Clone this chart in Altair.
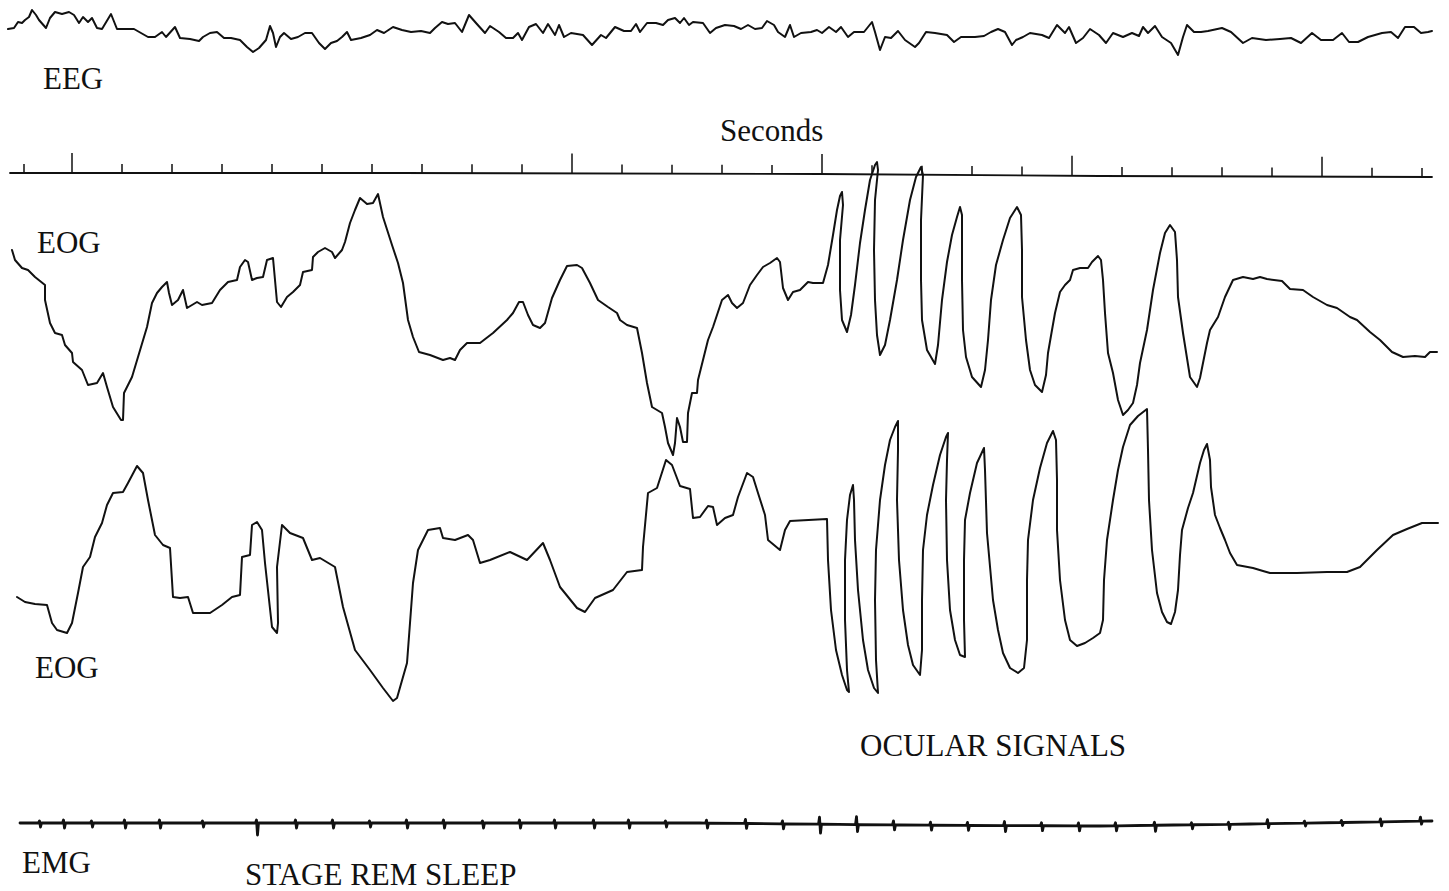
import altair as alt
import numpy as np
import pandas as pd

# Polysomnogram excerpt, stage REM sleep.
# Horizontal unit: samples at 50 per second; vertical unit: display rows (top = 0).

eeg_x = [8, 14, 18, 22, 25, 29, 32, 36, 39, 46, 50, 55, 62, 69, 74, 79, 83, 88, 92, 97,
         102, 111, 117, 134, 148, 155, 162, 166, 175, 180, 190, 199, 203, 210, 217, 224,
         231, 240, 247, 253, 259, 266, 270, 273, 276, 280, 284, 291, 298, 305, 312, 319,
         325, 331, 337, 342, 347, 351, 361, 370, 377, 384, 393, 402, 411, 421, 430, 435,
         442, 448, 455, 462, 469, 476, 485, 490, 499, 506, 513, 518, 522, 529, 536, 543,
         548, 555, 559, 564, 571, 583, 592, 601, 606, 615, 624, 631, 636, 640, 647, 656,
         663, 668, 675, 680, 684, 689, 693, 703, 710, 716, 725, 734, 741, 748, 755, 762,
         767, 774, 778, 785, 790, 794, 801, 811, 817, 822, 829, 836, 841, 848, 854, 864,
         872, 875, 880, 885, 891, 898, 905, 915, 919, 926, 935, 947, 954, 961, 975, 984,
         991, 998, 1005, 1012, 1016, 1023, 1030, 1042, 1049, 1057, 1065, 1069, 1076, 1083,
         1090, 1099, 1106, 1113, 1123, 1132, 1139, 1143, 1148, 1155, 1162, 1171, 1178,
         1183, 1187, 1194, 1201, 1208, 1222, 1231, 1243, 1252, 1266, 1280, 1291, 1301,
         1312, 1321, 1333, 1342, 1349, 1358, 1368, 1382, 1391, 1398, 1405, 1414, 1421,
         1428, 1432]
eeg_y = [29, 28, 22, 23, 20, 17, 10, 15, 20, 28, 18, 12, 14, 12, 15, 23, 17, 22, 18, 28,
         29, 14, 29, 29, 37, 37, 32, 37, 27, 38, 39, 41, 37, 33, 32, 38,
         38, 40, 47, 52, 48, 40, 26, 33, 47, 37, 33, 39, 37, 33, 33, 43,
         49, 43, 41, 37, 32, 40, 38, 35, 30, 33, 27, 30, 32, 31, 33, 28,
         22, 24, 23, 32, 15, 23, 33, 26, 32, 38, 38, 33, 40, 27, 24, 33,
         24, 35, 25, 37, 33, 35, 45, 35, 38, 27, 31, 31, 24, 32, 23, 23,
         25, 20, 18, 23, 18, 25, 22, 23, 33, 28, 25, 26, 29, 25, 29, 28,
         21, 25, 32, 37, 25, 37, 33, 32, 30, 33, 27, 32, 27, 37, 32, 32,
         22, 32, 50, 37, 38, 31, 40, 47, 43, 32, 33, 35, 42, 37, 37, 36,
         32, 29, 32, 45, 40, 37, 33, 35, 38, 25, 33, 27, 43, 38,
         29, 35, 43, 33, 37, 33, 36, 27, 33, 26, 37, 43, 55,
         37, 25, 32, 32, 31, 28, 32, 43, 38, 40, 39, 38, 43,
         33, 40, 40, 33, 42, 42, 37, 33, 32, 38, 27, 27, 33,
         32, 31]

eog1_x = [12, 15, 22, 28, 35, 45, 45, 50, 55, 62, 65, 72, 73, 82, 88, 97, 103, 107, 113,
          121, 123, 124, 132, 138, 147, 152, 157, 162, 167, 169, 172, 178, 183, 187, 192,
          197, 202, 212, 220, 228, 237, 240, 245, 248, 252, 257, 263, 267, 273, 275, 277,
          281, 287, 293, 300, 303, 312, 313, 318, 325, 332, 335, 342, 345, 350, 355, 360,
          367, 373, 378, 383, 392, 398, 403, 408, 413, 419, 430, 443, 450, 455, 460, 467,
          480, 493, 507, 513, 519, 523, 528, 533, 540, 545, 552, 560, 567, 577, 582, 590,
          598, 608, 617, 620, 627, 637, 642, 647, 652, 662, 665, 668, 673, 675, 677, 680,
          683, 687, 688, 692, 697, 698, 703, 708, 713, 722, 728, 732, 737, 743, 750, 757,
          763, 770, 777, 780, 783, 788, 793, 800, 808, 813, 823,
          828, 833, 837, 840, 842, 843, 840, 840, 842, 847, 851, 855, 860, 865, 870, 875,
          877, 878, 875, 874, 875, 877, 880, 885, 890, 897, 903, 910, 916, 921, 923, 921,
          921, 922, 927, 935, 938, 942, 947, 952, 957, 960, 962, 962, 963, 966, 972, 981,
          985, 988, 991, 996, 1003, 1010, 1017, 1021, 1022, 1022, 1026, 1030, 1035, 1042,
          1046, 1048, 1052, 1055, 1060, 1065, 1070, 1073, 1080, 1088, 1092, 1098, 1101,
          1103, 1105, 1108, 1113, 1118, 1123, 1128, 1133, 1137, 1140, 1147, 1153, 1160,
          1165, 1170, 1175, 1177, 1178, 1183, 1190, 1197, 1200, 1203, 1207, 1210, 1218,
          1225, 1233, 1243, 1253, 1260, 1267, 1282, 1290, 1303, 1313, 1327, 1337, 1350,
          1357, 1370, 1380, 1392, 1403, 1415, 1425, 1430, 1437]
eog1_y = [250, 260, 268, 270, 277, 285, 300, 323, 333, 335, 345, 353, 362, 370, 385, 383,
          373, 387, 407, 420, 420, 393, 377, 357, 327, 303, 293, 287, 282, 293, 305, 300,
          290, 308, 305, 302, 305, 303, 290, 282, 280, 267, 260, 262, 280, 278, 277, 260,
          258, 280, 302, 307, 297, 292, 285, 272, 270, 257, 252, 248, 252, 258, 250, 242,
          223, 210, 198, 204, 203, 194, 217, 245, 263, 283, 320, 337, 352, 355, 360, 358,
          360, 350, 343, 343, 333, 320, 313, 302, 302, 315, 325, 328, 323, 298, 280, 266,
          265, 268, 283, 300, 307, 313, 320, 325, 328, 353, 383, 407, 413, 427, 443, 455,
          443, 418, 427, 442, 442, 413, 393, 393, 380, 360, 340, 327, 300, 295, 303, 308,
          303, 285, 275, 267, 263, 258, 262, 288, 300, 292, 290, 282, 283, 283,
          265, 235, 210, 196, 192, 205, 240, 290, 320, 332, 315, 285, 243, 210, 180, 165,
          162, 170, 200, 250, 300, 335, 355, 345, 320, 280, 240, 200, 177, 167, 175, 220,
          280, 320, 350, 364, 345, 300, 262, 235, 217, 207, 215, 280, 330, 357, 377, 387,
          370, 340, 300, 265, 240, 218, 207, 215, 250, 297, 340, 370, 385, 392,
          375, 353, 330, 313, 292, 285, 280, 270, 268, 268, 262, 256, 260,
          280, 313, 353, 373, 400, 415, 410, 403, 385, 363, 330, 290, 253,
          233, 225, 232, 260, 297, 333, 377, 387, 378, 363, 343, 330, 317,
          297, 280, 277, 279, 277, 279, 281, 289, 290, 297, 305, 308, 317,
          320, 332, 340, 352, 357, 356, 357, 352, 352]

eog2_x = [17, 25, 35, 47, 52, 57, 67, 72, 78, 83, 90, 95, 102, 107, 113, 123, 128, 137, 143,
          148, 155, 163, 170, 173, 180, 188, 193, 210, 222, 232, 240, 242, 250, 252, 257,
          262, 265, 272, 277, 278, 277, 282, 290, 303, 312, 320, 335, 343, 355, 370, 383,
          393, 397, 407, 413, 418, 428, 440, 443, 455, 468, 473, 480, 490, 510, 527, 543,
          550, 560, 577, 585, 595, 613, 627, 642, 643, 648, 657, 666, 672, 680, 690, 693,
          700, 708, 713, 717, 725, 733, 738, 747, 753, 758, 765, 768, 780, 785, 790, 827,
          828, 831, 836, 842, 847, 849, 847, 845, 845, 847, 850, 853, 854, 855, 858, 863,
          868, 874, 878, 876, 875, 876, 880, 885, 890, 895, 898, 898, 897, 899, 903, 908,
          913, 920, 922, 922, 923, 927, 933, 940, 946, 948, 947, 946, 947, 950, 955, 960,
          965, 964, 964, 965, 970, 977, 984, 985, 987, 993, 998, 1003, 1010, 1018, 1024,
          1027, 1027, 1028, 1033, 1040, 1047, 1053, 1056, 1057, 1057, 1060, 1065, 1070,
          1077, 1085, 1093, 1100, 1103, 1104, 1107, 1113, 1118, 1123, 1130, 1138, 1147,
          1148, 1149, 1152, 1157, 1162, 1167, 1171, 1175, 1178, 1180, 1182, 1188, 1193,
          1200, 1204, 1207, 1210, 1211, 1215, 1220, 1225, 1230, 1237, 1253, 1263, 1270,
          1297, 1327, 1347, 1360, 1377, 1393, 1407, 1422, 1438]
eog2_y = [597, 602, 604, 605, 623, 630, 633, 623, 593, 567, 557, 537, 523, 505, 493, 492,
          483, 466, 473, 500, 535, 545, 548, 597, 598, 597, 613, 613, 605, 597, 595, 557,
          555, 525, 522, 530, 563, 627, 633, 623, 567, 525, 533, 538, 560, 558, 567, 607,
          650, 670, 688, 701, 698, 663, 583, 550, 530, 528, 538, 540, 535, 540, 563, 560,
          552, 560, 543, 560, 587, 608, 612, 598, 590, 572, 570, 547, 493, 488, 460, 465,
          486, 489, 518, 517, 506, 507, 525, 518, 515, 497, 473, 477, 493, 515, 540, 550,
          530, 521, 519,
          560, 610, 650, 675, 690, 692, 670, 620, 560, 520, 495, 485, 500, 540, 590, 640,
          670, 688, 693, 660, 600, 550, 500, 465, 440, 427, 421, 450, 500, 560, 610, 645,
          665, 675, 650, 600, 550, 515, 485, 455, 437, 433, 460, 500, 560, 610, 640, 655,
          657, 620, 560, 520, 493, 463, 448, 470, 533, 600, 630, 653, 668, 673, 668,
          640, 580, 540, 500, 468, 443, 431, 440, 480, 530, 580, 620, 640,
          646, 643, 638, 633, 620, 580, 540, 500, 470, 447, 425, 416, 409,
          450, 500, 550, 593, 612, 622, 624, 612, 590, 555, 530, 508, 493,
          463, 450, 444, 460, 487, 515, 528, 540, 553, 565, 568, 571, 573,
          573, 572, 572, 567, 550, 535, 529, 523, 523]

# Seconds marker channel: pen baseline and one tick per second
sec_line_x = [10, 400, 820, 1100, 1432]
sec_line_y = [173, 173, 174, 176, 177]
tick_x = [24] + [72 + 50 * k for k in range(28)]
major_ticks = [72, 572, 822, 1072, 1322]

# EMG channel: slowly drifting baseline with cardiac artefact spikes
emg_base_x = [20, 700, 900, 1100, 1250, 1432]
emg_base_y = [823, 823, 825, 826, 824, 821]
emg_spike_x = [40, 64, 92, 125, 160, 203, 257, 296, 333, 370, 407, 444, 483, 520, 555, 594,
               629, 666, 707, 746, 783, 820, 857, 894, 931, 968, 1005, 1042, 1079, 1116,
               1155, 1192, 1229, 1268, 1305, 1342, 1381, 1421]
emg_spike_up = [2, 3, 2, 3, 3, 2, 3, 3, 3, 2, 3, 3, 2, 3, 3, 3,
                3, 2, 3, 4, 3, 7, 8, 4, 3, 3, 4, 3, 3, 3,
                3, 2, 2, 4, 2, 2, 3, 4]
emg_spike_down = [4, 5, 4, 5, 5, 4, 12, 5, 5, 4, 5, 5, 5, 5, 5, 5,
                  5, 4, 5, 5, 5, 9, 7, 5, 5, 5, 6, 5, 5, 5,
                  6, 4, 5, 4, 3, 3, 4, 3]

labels = ["EEG", "Seconds", "EOG", "EOG", "OCULAR SIGNALS", "EMG", "STAGE REM SLEEP"]
label_x = [43, 720, 37, 35, 860, 22, 245]
label_y = [89, 141, 253, 678, 756, 873, 885]

# pen width per channel
pen_width = {"eeg": 2.0, "eog1": 2.0, "eog2": 2.0, "sec": 1.8, "emg": 2.8}

# ---- assemble tables ----
rows = []
for name, xs, ys in [("eeg", eeg_x, eeg_y), ("eog1", eog1_x, eog1_y), ("eog2", eog2_x, eog2_y),
                     ("sec", sec_line_x, sec_line_y)]:
    for i, (a, b) in enumerate(zip(xs, ys)):
        rows.append({"trace": name, "i": i, "x": a, "y": b})

emg_pts = []
for sx, up, dn in zip(emg_spike_x, emg_spike_up, emg_spike_down):
    b = float(np.interp(sx, emg_base_x, emg_base_y))
    emg_pts += [(sx - 1.5, b), (sx - 0.5, b - up), (sx + 0.5, b + dn), (sx + 1.5, b)]
emg_pts += list(zip(emg_base_x, emg_base_y))
emg_pts.sort(key=lambda p: p[0])
for i, (a, b) in enumerate(emg_pts):
    rows.append({"trace": "emg", "i": i, "x": a, "y": b})

traces = pd.DataFrame(rows)
traces["w"] = traces["trace"].map(pen_width)

ticks = pd.DataFrame({
    "x": tick_x,
    "y": [float(np.interp(t, sec_line_x, sec_line_y)) for t in tick_x],
})
ticks["y2"] = ticks["y"] - np.where(ticks["x"].isin(major_ticks), 20, 9)

text_df = pd.DataFrame({"label": labels, "x": label_x, "y": label_y})

xs = alt.Scale(domain=[0, 1449], nice=False, zero=False)
ys = alt.Scale(domain=[0, 891], nice=False, zero=False, reverse=True)

lines = alt.Chart(traces).mark_line(
    color="#111111", strokeJoin="round", strokeCap="round"
).encode(
    x=alt.X("x:Q", scale=xs, axis=None),
    y=alt.Y("y:Q", scale=ys, axis=None),
    detail="trace:N",
    order="i:Q",
    strokeWidth=alt.StrokeWidth("w:Q", scale=None, legend=None),
)

tick_marks = alt.Chart(ticks).mark_rule(color="#111111", strokeWidth=1.5).encode(
    x=alt.X("x:Q", scale=xs, axis=None),
    y=alt.Y("y:Q", scale=ys, axis=None),
    y2="y2:Q",
)

texts = alt.Chart(text_df).mark_text(
    align="left", baseline="alphabetic", font="Liberation Serif", fontSize=31, color="#111111"
).encode(
    x=alt.X("x:Q", scale=xs, axis=None),
    y=alt.Y("y:Q", scale=ys, axis=None),
    text="label:N",
)

chart = alt.layer(lines, tick_marks, texts).properties(
    width=1449, height=891, padding=0, autosize=alt.AutoSizeParams(type="none"),
    background="white",
).configure_view(strokeWidth=0)

chart.save("out.html", embed_options={"renderer": "svg", "actions": False})
